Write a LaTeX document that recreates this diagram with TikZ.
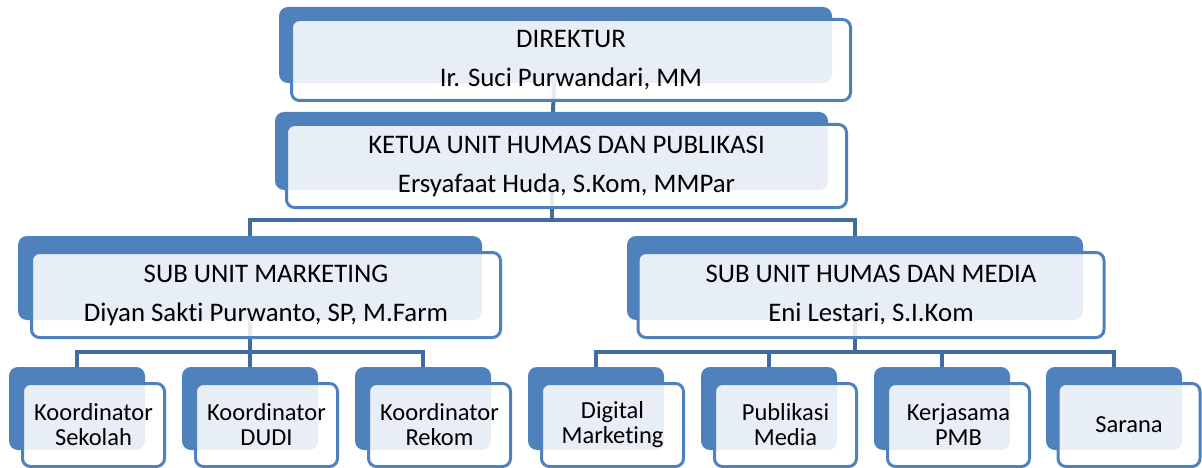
\documentclass[tikz,border=0pt]{standalone}
\usepackage{fontspec}
\setmainfont{Carlito}[Ligatures=NoCommon]
\usetikzlibrary{calc,backgrounds}
\definecolor{boxblue}{RGB}{79,129,189}
\definecolor{linkblue}{RGB}{65,108,160}
\tikzset{
  backbox/.style={fill=boxblue, rounded corners=9pt, inner sep=0pt},
  frontbox/.style={draw=boxblue, line width=3pt, fill=white, fill opacity=0.87,
                   text opacity=1, rounded corners=8pt, inner sep=0pt, align=center},
  headtxt/.style={font=\fontsize{26.8}{39}\selectfont},
  leaftxt/.style={font=\fontsize{24.5}{25}\selectfont},
  leafback/.style={backbox, minimum width=136pt, minimum height=83pt},
  leaffront/.style={frontbox, leaftxt, minimum width=142pt, minimum height=83pt},
  link/.style={draw=linkblue, line width=4pt},
  }

\begin{document}
\begin{tikzpicture}[x=1pt,y=-1pt]
  \useasboundingbox (0,0) rectangle (1202,468);

  % back plates, top levels
  \node[backbox, minimum width=553pt, minimum height=76pt] (dirB) at (555.5,45) {};
  \node[backbox, minimum width=553pt, minimum height=78pt] (ketB) at (551.5,151) {};
  \node[backbox, minimum width=464pt, minimum height=84pt] (mktB) at (250,278) {};
  \node[backbox, minimum width=456pt, minimum height=84pt] (hmsB) at (855,278) {};

  % back plates, bottom row
  \node[leafback] (sekB) at (77,408.5)   {};
  \node[leafback] (dudB) at (250,408.5)  {};
  \node[leafback] (rekB) at (423,408.5)  {};
  \node[leafback] (digB) at (596,408.5)  {};
  \node[leafback] (pubB) at (769,408.5)  {};
  \node[leafback] (kerB) at (942,408.5)  {};
  \node[leafback] (sarB) at (1114,408.5) {};

  % bus heights
  \coordinate (busTop) at (0,220);
  \coordinate (busLow) at (0,352);

  % connectors, behind everything
  \begin{scope}[on background layer]
    \draw[link] (dirB.center) -- (ketB.center);
    \draw[link] (ketB.center) -- (ketB.center |- busTop) -| (mktB.center);
    \draw[link] (ketB.center) -- (ketB.center |- busTop) -| (hmsB.center);
    \foreach \c in {sekB,dudB,rekB}
      \draw[link] (mktB.center) -- (mktB.center |- busLow) -| (\c.center);
    \foreach \c in {digB,pubB,kerB,sarB}
      \draw[link] (hmsB.center) -- (hmsB.center |- busLow) -| (\c.center);
  \end{scope}

  % front cards, top levels
  \node[frontbox, headtxt, minimum width=559pt, minimum height=81pt] (dirF) at (571,60)
    {DIREKTUR\\Ir. Suci Purwandari, MM};
  \node[frontbox, headtxt, minimum width=560pt, minimum height=83pt] (ketF) at (566.5,166)
    {KETUA UNIT HUMAS DAN PUBLIKASI\\Ersyafaat Huda, S.Kom, MMPar};
  \node[frontbox, headtxt, minimum width=469pt, minimum height=85pt] (mktF) at (266,295)
    {SUB UNIT MARKETING\\Diyan Sakti Purwanto, SP, M.Farm};
  \node[frontbox, headtxt, minimum width=466pt, minimum height=85pt] (hmsF) at (871,295)
    {SUB UNIT HUMAS DAN MEDIA\\Eni Lestari, S.I.Kom};

  % front cards, bottom row
  \node[leaffront] (sekF) at (93.5,425)   {Koordinator\\Sekolah};
  \node[leaffront] (dudF) at (266.5,425)  {Koordinator\\DUDI};
  \node[leaffront] (rekF) at (439.5,425)  {Koordinator\\Rekom};
  \node[leaffront] (digF) at (612.5,425)  {Digital\\Marketing};
  \node[leaffront] (pubF) at (785.5,425)  {Publikasi\\Media};
  \node[leaffront] (kerF) at (958.5,425)  {Kerjasama\\PMB};
  \node[leaffront] (sarF) at (1129,425)   {Sarana};
\end{tikzpicture}
\end{document}
